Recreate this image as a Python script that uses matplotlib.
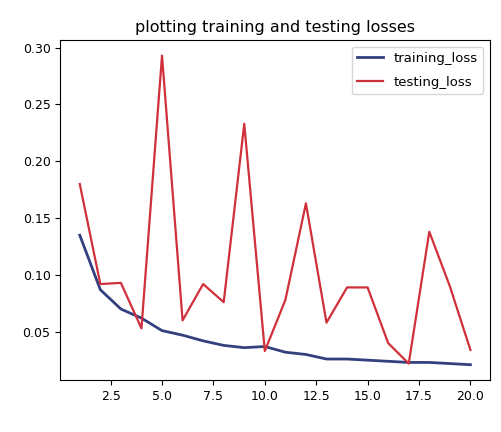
import matplotlib
matplotlib.use("Agg")
import matplotlib.pyplot as plt

epochs = list(range(1, 21))
training_loss = [0.135, 0.087, 0.070, 0.062, 0.051, 0.047, 0.042, 0.038, 0.036, 0.037,
                 0.032, 0.030, 0.026, 0.026, 0.025, 0.024, 0.023, 0.023, 0.022, 0.021]
testing_loss = [0.180, 0.092, 0.093, 0.053, 0.293, 0.060, 0.092, 0.076, 0.233, 0.033,
                0.078, 0.163, 0.058, 0.089, 0.089, 0.040, 0.022, 0.138, 0.090, 0.034]


def main():
    fig = plt.figure(figsize=(5.02, 4.32), dpi=100)
    ax = fig.add_axes([0.12, 0.12, 0.856, 0.787])

    ax.plot(epochs, training_loss, color="#34407e", linewidth=2, label="training_loss")
    ax.plot(epochs, testing_loss, color="#d0303a", linewidth=1.6, label="testing_loss")

    ax.set_yticks([0.05, 0.10, 0.15, 0.20, 0.25, 0.30])
    ax.tick_params(labelsize=9)
    ax.set_title("plotting training and testing losses", fontsize=11.5)
    ax.legend(loc="upper right", fontsize=9.5, labelspacing=0.8)

    fig.savefig("out.png", dpi=100)


if __name__ == "__main__":
    main()
